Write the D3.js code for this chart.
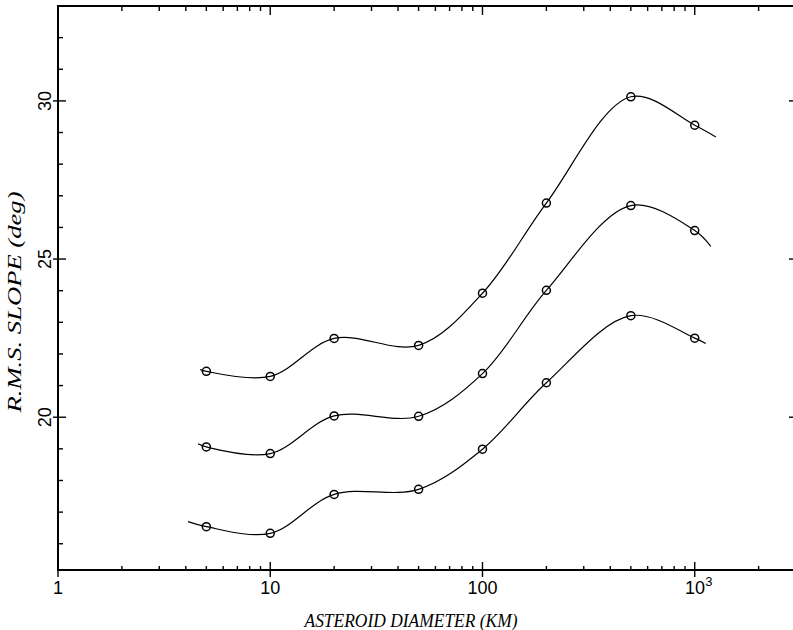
<!DOCTYPE html>
<html>
<head>
<meta charset="utf-8">
<script src="https://cdn.jsdelivr.net/npm/d3@7"></script>
<style>
  html, body { margin: 0; padding: 0; background: #fff; }
  svg { display: block; }
</style>
</head>
<body>
<svg id="chart" width="793" height="630"></svg>
<script>
// ---- data ----
const diameters = [5, 10, 20, 50, 100, 200, 500, 1000];
const slopeTop    = [21.45, 21.29, 22.49, 22.27, 23.92, 26.77, 30.13, 29.23];
const slopeMiddle = [19.06, 18.85, 20.04, 20.03, 21.38, 24.01, 26.69, 25.90];
const slopeBottom = [16.54, 16.33, 17.56, 17.72, 18.99, 21.09, 23.21, 22.50];
// where each drawn curve begins and ends (beyond the first/last marker)
const curveStartD = [4.67, 4.57, 4.10];
const curveStartS = [21.51, 19.16, 16.70];
const curveEndD   = [1257, 1190, 1127];
const curveEndS   = [28.86, 25.40, 22.33];

const xMajorTicks = [1, 10, 100, 1000];
const xMinorTicks = [2,3,4,5,6,7,8,9,20,30,40,50,60,70,80,90,200,300,400,500,600,700,800,900,2000,3000];
const yMajorTicks = [20, 25, 30];
const yMinorTicks = [16,17,18,19,21,22,23,24,26,27,28,29,31,32,33];
const xTitle = "ASTEROID DIAMETER (KM)";
const yTitle = "R.M.S. SLOPE (deg)";

// ---- drawing ----
(function () {
const svg = d3.select("#chart");
const pL = 58, pR = 796, pT = 6, pB = 570;

const x = d3.scaleLog().domain([1, 3000]).range([pL, pR]);
const y = d3.scaleLinear().domain([15.17, 33]).range([pB, pT]);

const tickFont = "'Liberation Sans', Arial, Helvetica, sans-serif";
const titleFont = "'Liberation Serif', 'Times New Roman', serif";

// frame
svg.append("path")
  .attr("d", `M${pR},${pT}H${pL}V${pB}H${pR}V${pT}`)
  .attr("stroke", "#000").attr("stroke-width", 2).attr("fill", "none");

const tk = svg.append("g").attr("stroke", "#000").attr("stroke-width", 1.4);
// bottom axis ticks
tk.selectAll("line.bmaj").data(xMajorTicks).join("line").attr("class", "bmaj")
  .attr("x1", d => x(d)).attr("x2", d => x(d)).attr("y1", pB + 7).attr("y2", pB - 8);
tk.selectAll("line.bmin").data(xMinorTicks).join("line").attr("class", "bmin")
  .attr("x1", d => x(d)).attr("x2", d => x(d)).attr("y1", pB).attr("y2", pB - 4);
// top axis ticks
tk.selectAll("line.tmaj").data(xMajorTicks).join("line").attr("class", "tmaj")
  .attr("x1", d => x(d)).attr("x2", d => x(d)).attr("y1", pT).attr("y2", pT + 9);
tk.selectAll("line.tmin").data(xMinorTicks).join("line").attr("class", "tmin")
  .attr("x1", d => x(d)).attr("x2", d => x(d)).attr("y1", pT).attr("y2", pT + 5);
// left axis ticks
tk.selectAll("line.lmaj").data(yMajorTicks).join("line").attr("class", "lmaj")
  .attr("x1", pL - 5).attr("x2", pL + 8).attr("y1", d => y(d)).attr("y2", d => y(d));
tk.selectAll("line.lmin").data(yMinorTicks).join("line").attr("class", "lmin")
  .attr("x1", pL).attr("x2", pL + 5).attr("y1", d => y(d)).attr("y2", d => y(d));
// right axis ticks
tk.selectAll("line.rmaj").data(yMajorTicks).join("line").attr("class", "rmaj")
  .attr("x1", pR).attr("x2", pR - 7).attr("y1", d => y(d)).attr("y2", d => y(d));

// x tick labels
const xl = svg.append("g").attr("font-family", tickFont).attr("font-size", 18).attr("fill", "#000");
xMajorTicks.forEach(d => {
  const t = xl.append("text").attr("x", x(d)).attr("y", pB + 24).attr("text-anchor", "middle");
  if (d === 1000) {
    t.attr("x", x(d) + 4);
    t.append("tspan").text("10");
    t.append("tspan").attr("dy", -8).attr("font-size", 13).text("3");
  } else {
    t.text(d3.format("d")(d));
  }
});

// y tick labels (rotated)
const yl = svg.append("g").attr("font-family", tickFont).attr("font-size", 18).attr("fill", "#000");
yMajorTicks.forEach(d => {
  yl.append("text")
    .attr("transform", `translate(${pL - 7},${y(d)}) rotate(-90)`)
    .attr("text-anchor", "middle")
    .text(d);
});

// titles
svg.append("text")
  .attr("x", 411).attr("y", 627)
  .attr("text-anchor", "middle")
  .attr("font-family", titleFont).attr("font-style", "italic").attr("font-size", 18)
  .attr("textLength", 213).attr("lengthAdjust", "spacingAndGlyphs")
  .text(xTitle);
svg.append("text")
  .attr("transform", `translate(21,302) rotate(-90)`)
  .attr("text-anchor", "middle")
  .attr("font-family", titleFont).attr("font-style", "italic").attr("font-size", 18)
  .attr("textLength", 221).attr("lengthAdjust", "spacingAndGlyphs")
  .text(yTitle);

// curves and markers
const allSeries = [slopeTop, slopeMiddle, slopeBottom];
const line = d3.line().x(d => x(d[0])).y(d => y(d[1])).curve(d3.curveCatmullRom.alpha(0.5));

allSeries.forEach((vals, i) => {
  const pts = [[curveStartD[i], curveStartS[i]]]
    .concat(diameters.map((d, j) => [d, vals[j]]))
    .concat([[curveEndD[i], curveEndS[i]]]);
  svg.append("path").datum(pts)
    .attr("d", line).attr("fill", "none").attr("stroke", "#000").attr("stroke-width", 1.2);
  svg.append("g").selectAll("circle").data(diameters.map((d, j) => [d, vals[j]])).join("circle")
    .attr("cx", d => x(d[0])).attr("cy", d => y(d[1])).attr("r", 4)
    .attr("fill", "none").attr("stroke", "#000").attr("stroke-width", 1.5);
});
})();
</script>
</body>
</html>
